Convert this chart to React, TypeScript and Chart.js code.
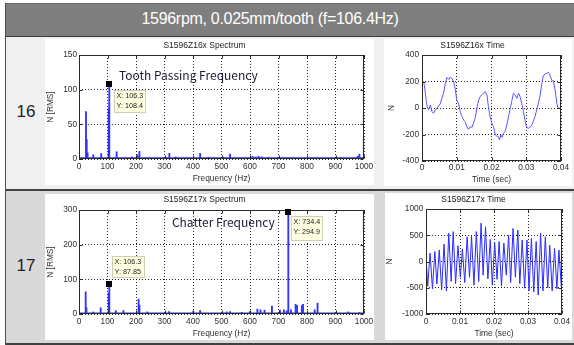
import React, { useEffect, useRef } from "react";
import { Chart, registerables } from "chart.js";
Chart.register(...registerables);

// ---------- DATA ----------
const headerText = "1596rpm, 0.025mm/tooth (f=106.4Hz)";
const rowLabels = ["16", "17"];
const spec16Title = "S1596Z16x Spectrum";
const spec17Title = "S1596Z17x Spectrum";
const time16Title = "S1596Z16x Time";
const time17Title = "S1596Z17x Time";

const spec16Hz = [24.6, 27, 30, 50, 78, 104, 106.3, 132, 185, 205, 212, 317, 339, 425, 454, 504, 530, 609, 620, 630, 641, 664, 918, 978, 984];
const spec16Amp = [68.5, 28, 9, 6, 8, 73, 108.4, 10.5, 3, 6, 11, 8, 3, 8, 2.5, 3, 7, 4, 3, 4, 3, 2, 2, 4, 7];
const spec17Hz = [23.4, 26, 50, 76, 104, 106.3, 129, 156, 209, 212, 240, 316, 401, 425, 518, 530, 571, 600, 626, 637, 651, 677, 705, 719, 729, 734.4, 744, 760, 765, 782, 786, 827, 837, 945, 984];
const spec17Amp = [64, 18, 6, 18, 60, 87.85, 10, 10, 43, 26, 6, 7, 8, 10, 6, 7, 5, 7, 14, 12, 11, 23, 11, 12, 9, 294.9, 12, 28, 25, 24, 28, 12, 31, 6, 4];
const floorHz = [0, 1000];
const floor16 = [1.2, 1.2];
const floor17 = [1.5, 1.5];

const specXTicks = [0, 100, 200, 300, 400, 500, 600, 700, 800, 900, 1000];
const spec16YTicks = [0, 50, 100, 150];
const spec17YTicks = [0, 100, 200, 300];
const timeXTicks = [0, 0.01, 0.02, 0.03, 0.04];
const time16YTicks = [-400, -200, 0, 200, 400];
const time17YTicks = [-1000, -500, 0, 500, 1000];

const time16T = [0, 0.0005, 0.00086, 0.00124, 0.0016, 0.002, 0.0024, 0.0029, 0.0033, 0.0038, 0.0043, 0.0048, 0.0053, 0.0057, 0.0062, 0.0067, 0.0072, 0.0077, 0.0081, 0.0086, 0.0091, 0.0096, 0.01, 0.0105, 0.011, 0.0115, 0.012, 0.0124, 0.0129, 0.0134, 0.0139, 0.0144, 0.0148, 0.0153, 0.0158, 0.0163, 0.0167, 0.0172, 0.0177, 0.0182, 0.0187, 0.0191, 0.0196, 0.0201, 0.0206, 0.0211, 0.0215, 0.022, 0.0223, 0.0227, 0.0231, 0.0234, 0.0239, 0.0244, 0.0249, 0.0254, 0.0258, 0.0263, 0.0268, 0.0273, 0.0278, 0.0282, 0.0287, 0.0292, 0.0297, 0.0301, 0.0306, 0.0311, 0.0316, 0.032, 0.0325, 0.033, 0.0335, 0.034, 0.0345, 0.0349, 0.0354, 0.0359, 0.0364, 0.0368, 0.0373, 0.0378, 0.0383, 0.0388, 0.0392, 0.0397, 0.04];
const time16F = [199, 199, 136, 48, -3, -10, 23, -28, -40, -15, -3, 15, 35, 73, 111, 186, 231, 216, 231, 224, 199, 136, 60, 35, -28, -65, -91, -103, -141, -161, -141, -146, -116, -78, -3, 60, 86, 98, 111, 123, 98, 10, -65, -116, -141, -204, -211, -216, -241, -204, -221, -191, -179, -128, -65, -3, 48, 111, 98, 73, 111, 86, 35, -28, -103, -146, -153, -146, -128, -103, -65, -15, 35, 98, 186, 242, 257, 262, 269, 249, 211, 206, 136, 35, -3, -3, -3];

const time17T = [0, 0.0005, 0.0012, 0.0019, 0.0026, 0.0032, 0.0039, 0.0046, 0.0053, 0.006, 0.0067, 0.0074, 0.008, 0.0087, 0.0094, 0.0101, 0.0107, 0.0114, 0.0121, 0.0128, 0.0134, 0.0141, 0.0148, 0.0155, 0.0162, 0.0168, 0.0175, 0.0182, 0.0189, 0.0195, 0.0202, 0.0209, 0.0215, 0.0222, 0.0229, 0.0236, 0.0243, 0.0249, 0.0256, 0.0263, 0.027, 0.0276, 0.0283, 0.029, 0.0297, 0.0303, 0.031, 0.0317, 0.0324, 0.033, 0.0337, 0.0344, 0.0351, 0.0358, 0.0364, 0.0371, 0.0378, 0.0385, 0.0391, 0.0398, 0.04];
const time17F = [100, -470, 160, -520, 190, -430, 220, -540, 330, -560, 540, -380, 570, -420, 300, -300, 240, -400, 470, -300, 480, -450, 570, -380, 730, -260, 660, -330, 420, -450, 350, -340, 380, -470, 350, -260, 500, -400, 630, -300, 600, -420, 410, -510, 410, -560, 440, -580, 380, -640, 540, -560, 470, -500, 310, -560, 250, -520, 220, -480, -300];

const tip16X = [106.3];
const tip16Y = [108.4];
const tip17X = [106.3, 734.4];
const tip17Y = [87.85, 294.9];

const note16 = "Tooth Passing Frequency";
const note17 = "Chatter Frequency";

// ---------- STYLE / HELPERS ----------
const FONT = "'Liberation Sans', Arial, sans-serif";
const NOTE_FONT = "'Noto Sans CJK KR', 'Noto Sans', sans-serif";

type Tip = { x: number; y: number; dx: number; dy: number; w: number; h: number };
type Note = { text: string; x: number; y: number };

function matlabPlugin(tips: Tip[], note: Note | null, xTicks: number[], yTicks: number[]) {
  return {
    id: "matlabDecor",
    afterDraw(chart: any) {
      const { ctx, chartArea: a, scales } = chart;
      const xs = scales.x;
      const ys = scales.y;
      ctx.save();
      const L = Math.round(a.left) + 0.5;
      const T = Math.round(a.top) + 0.5;
      const R = Math.round(a.right) - 0.5;
      const B = Math.round(a.bottom) - 0.5;
      ctx.strokeStyle = "#2a2a2a";
      ctx.lineWidth = 1;
      ctx.setLineDash([]);
      ctx.strokeRect(L, T, R - L, B - T);
      ctx.beginPath();
      for (const v of xTicks) {
        const p = Math.round(xs.getPixelForValue(v)) + 0.5;
        ctx.moveTo(p, B);
        ctx.lineTo(p, B - 3);
        ctx.moveTo(p, T);
        ctx.lineTo(p, T + 3);
      }
      for (const v of yTicks) {
        const p = Math.round(ys.getPixelForValue(v)) + 0.5;
        ctx.moveTo(L, p);
        ctx.lineTo(L + 3, p);
        ctx.moveTo(R, p);
        ctx.lineTo(R - 3, p);
      }
      ctx.stroke();
      if (note) {
        ctx.font = `12px ${NOTE_FONT}`;
        ctx.fillStyle = "#1c1c30";
        ctx.textBaseline = "middle";
        ctx.textAlign = "left";
        ctx.fillText(note.text, xs.getPixelForValue(note.x), ys.getPixelForValue(note.y));
      }
      for (const t of tips) {
        const px = xs.getPixelForValue(t.x);
        const py = ys.getPixelForValue(t.y);
        const bx = Math.round(px + t.dx);
        const by = Math.round(py + t.dy);
        ctx.fillStyle = "#ffffe1";
        ctx.fillRect(bx, by, t.w, t.h);
        ctx.strokeStyle = "#cfcfb8";
        ctx.strokeRect(bx + 0.5, by + 0.5, t.w - 1, t.h - 1);
        ctx.fillStyle = "#202020";
        ctx.font = `7.2px ${FONT}`;
        ctx.textBaseline = "middle";
        ctx.textAlign = "left";
        ctx.fillText(`X: ${t.x}`, bx + 2.5, by + 6.5);
        ctx.fillText(`Y: ${t.y}`, bx + 2.5, by + 16.5);
        ctx.fillStyle = "#000";
        ctx.fillRect(Math.round(px) - 3, Math.round(py) - 3, 6, 6);
      }
      ctx.restore();
    },
  };
}

type Layout = {
  yWidth: number;
  xHeight: number;
  rightPad: number;
  titleTop: number;
  titleBottom: number;
  yTitlePad: number;
  xTitlePad: number;
  xTickPad: number;
  yTickPad: number;
};

function axes(
  xMin: number, xMax: number, xTicks: number[], xTitle: string,
  yMin: number, yMax: number, yTicks: number[], yTitle: string, lay: Layout
) {
  const grid = { color: "rgba(0,0,0,0.85)", lineWidth: 1, drawTicks: false };
  const border = { display: false, dash: [1, 2] };
  const tickFont = { family: FONT, size: 8.3 };
  return {
    x: {
      type: "linear",
      min: xMin,
      max: xMax,
      offset: false,
      grid: { ...grid, offset: false },
      border,
      afterBuildTicks: (s: any) => { s.ticks = xTicks.map((v) => ({ value: v })); },
      afterFit: (s: any) => { s.height = lay.xHeight; s.paddingLeft = 0; s.paddingRight = 0; },
      ticks: { font: tickFont, color: "#303030", padding: lay.xTickPad, maxRotation: 0, autoSkip: false, callback: (v: any) => String(v) },
      title: { display: true, text: xTitle, font: { family: FONT, size: 8.4 }, color: "#303030", padding: { top: 0, bottom: lay.xTitlePad } },
    },
    y: {
      type: "linear",
      min: yMin,
      max: yMax,
      grid,
      border,
      afterBuildTicks: (s: any) => { s.ticks = yTicks.map((v) => ({ value: v })); },
      afterFit: (s: any) => { s.width = lay.yWidth; s.paddingTop = 0; s.paddingBottom = 0; },
      ticks: { font: tickFont, color: "#303030", padding: lay.yTickPad, autoSkip: false, callback: (v: any) => String(v) },
      title: { display: true, text: yTitle, font: { family: FONT, size: 8.3 }, color: "#303030", padding: { top: lay.yTitlePad, bottom: 0 } },
    },
  };
}

function baseOptions(title: string, lay: Layout, scales: any) {
  return {
    responsive: false,
    animation: false,
    devicePixelRatio: 1,
    layout: { padding: { left: 0, right: lay.rightPad, top: 0, bottom: 0 } },
    plugins: {
      legend: { display: false },
      tooltip: { enabled: false },
      title: {
        display: true,
        text: title,
        font: { family: FONT, size: 8.5, weight: "normal" },
        color: "#222",
        padding: { top: lay.titleTop, bottom: lay.titleBottom },
      },
    },
    scales,
  };
}

function spectrumConfig(
  title: string, hz: number[], amp: number[], floor: number[], yMax: number, yTicks: number[],
  tipX: number[], tipY: number[], tipPos: { dx: number; dy: number; w: number; h: number }[],
  note: Note, lay: Layout
) {
  const tips: Tip[] = tipX.map((x, i) => ({ x, y: tipY[i], ...tipPos[i] }));
  return {
    type: "bar",
    data: {
      datasets: [
        {
          type: "bar",
          data: hz.map((x, i) => ({ x, y: amp[i] })),
          backgroundColor: "#3232ff",
          borderWidth: 0,
          barThickness: 1.2,
          grouped: false,
          order: 2,
        },
        {
          type: "line",
          data: floorHz.map((x, i) => ({ x, y: floor[i] })),
          borderColor: "#3232ff",
          borderWidth: 2,
          pointRadius: 0,
          order: 1,
        },
      ],
    },
    options: baseOptions(title, lay, axes(0, 1000, specXTicks, "Frequency (Hz)", 0, yMax, yTicks, "N [RMS]", lay)),
    plugins: [matlabPlugin(tips, note, specXTicks, yTicks)],
  };
}

function timeConfig(title: string, t: number[], f: number[], yMin: number, yMax: number, yTicks: number[], color: string, lay: Layout) {
  return {
    type: "line",
    data: {
      datasets: [
        {
          data: t.map((x, i) => ({ x, y: f[i] })),
          borderColor: color,
          borderWidth: 1,
          pointRadius: 0,
          tension: 0,
        },
      ],
    },
    options: baseOptions(title, lay, axes(0, 0.04, timeXTicks, "Time (sec)", yMin, yMax, yTicks, "N", lay)),
    plugins: [matlabPlugin([], null, timeXTicks, yTicks)],
  };
}

function Plot({ left, top, width, height, config }: { left: number; top: number; width: number; height: number; config: any }) {
  const ref = useRef<HTMLCanvasElement | null>(null);
  useEffect(() => {
    if (!ref.current) return;
    const chart = new Chart(ref.current, config);
    return () => chart.destroy();
  }, []);
  return (
    <div style={{ position: "absolute", left, top, width, height, background: "#fff" }}>
      <canvas ref={ref} width={width} height={height} style={{ display: "block", width, height }} />
    </div>
  );
}

const lay16s: Layout = { yWidth: 34, xHeight: 26, rightPad: 10, titleTop: 1.9, titleBottom: 3.9, yTitlePad: 1, xTitlePad: 1, xTickPad: 3, yTickPad: 2 };
const lay17s: Layout = { yWidth: 34, xHeight: 26, rightPad: 10, titleTop: 0.5, titleBottom: 5.3, yTitlePad: 1, xTitlePad: 1, xTickPad: 3, yTickPad: 2 };
const lay16t: Layout = { yWidth: 38, xHeight: 25, rightPad: 11, titleTop: 1.6, titleBottom: 4.2, yTitlePad: 2.7, xTitlePad: 1.5, xTickPad: 1.3, yTickPad: 3 };
const lay17t: Layout = { yWidth: 41, xHeight: 26, rightPad: 10, titleTop: 1.9, titleBottom: 3.9, yTitlePad: 0, xTitlePad: 1, xTickPad: 2.7, yTickPad: 2.7 };

export default function App() {
  const spec16 = spectrumConfig(spec16Title, spec16Hz, spec16Amp, floor16, 150, spec16YTicks, tip16X, tip16Y,
    [{ dx: 4.5, dy: 6, w: 32, h: 23 }], { text: note16, x: 140, y: 120 }, lay16s);
  const spec17 = spectrumConfig(spec17Title, spec17Hz, spec17Amp, floor17, 300, spec17YTicks, tip17X, tip17Y,
    [{ dx: 3, dy: -28, w: 33, h: 22 }, { dx: 2.5, dy: 4, w: 32, h: 25 }], { text: note17, x: 326, y: 263 }, lay17s);
  const time16 = timeConfig(time16Title, time16T, time16F, -400, 400, time16YTicks, "#5858ff", lay16t);
  const time17 = timeConfig(time17Title, time17T, time17F, -1000, 1000, time17YTicks, "#2a2aff", lay17t);

  const label = (text: string, top: number) => (
    <div style={{ position: "absolute", left: 6, width: 40, top: top - 12, height: 24, lineHeight: "24px", textAlign: "center", fontFamily: FONT, fontSize: 17, color: "#222" }}>
      {text}
    </div>
  );

  return (
    <div style={{ position: "absolute", left: 0, top: 0, width: 574, height: 345, background: "#fff", overflow: "hidden" }}>
      {/* header */}
      <div style={{ position: "absolute", left: 5, top: 3, width: 569, height: 34, background: "#7f7f7f", borderTop: "1px solid #6a6a6a", boxSizing: "border-box" }} />
      <div style={{ position: "absolute", left: 90, width: 360, top: 8, height: 22, lineHeight: "22px", textAlign: "center", color: "#fff", fontFamily: FONT, fontSize: 16, letterSpacing: -0.3 }}>
        {headerText}
      </div>
      <div style={{ position: "absolute", left: 5, top: 36, width: 569, height: 1, background: "#3a3a3a" }} />
      {/* row 1 */}
      <div style={{ position: "absolute", left: 5, top: 37, width: 569, height: 152, background: "#f0f0f0" }} />
      <div style={{ position: "absolute", left: 5, top: 189, width: 569, height: 2, background: "#404040" }} />
      {/* row 2 */}
      <div style={{ position: "absolute", left: 5, top: 191, width: 569, height: 152, background: "#d9d9d9" }} />
      <div style={{ position: "absolute", left: 5, top: 343, width: 569, height: 2, background: "#404040" }} />
      {/* left border */}
      <div style={{ position: "absolute", left: 5, top: 3, width: 1, height: 342, background: "#505050" }} />
      {label(rowLabels[0], 112)}
      {label(rowLabels[1], 266)}
      <Plot left={45} top={39} width={329} height={146} config={spec16} />
      <Plot left={384} top={39} width={188} height={147} config={time16} />
      <Plot left={45} top={194} width={329} height={146} config={spec17} />
      <Plot left={385} top={193} width={187} height={147} config={time17} />
    </div>
  );
}
